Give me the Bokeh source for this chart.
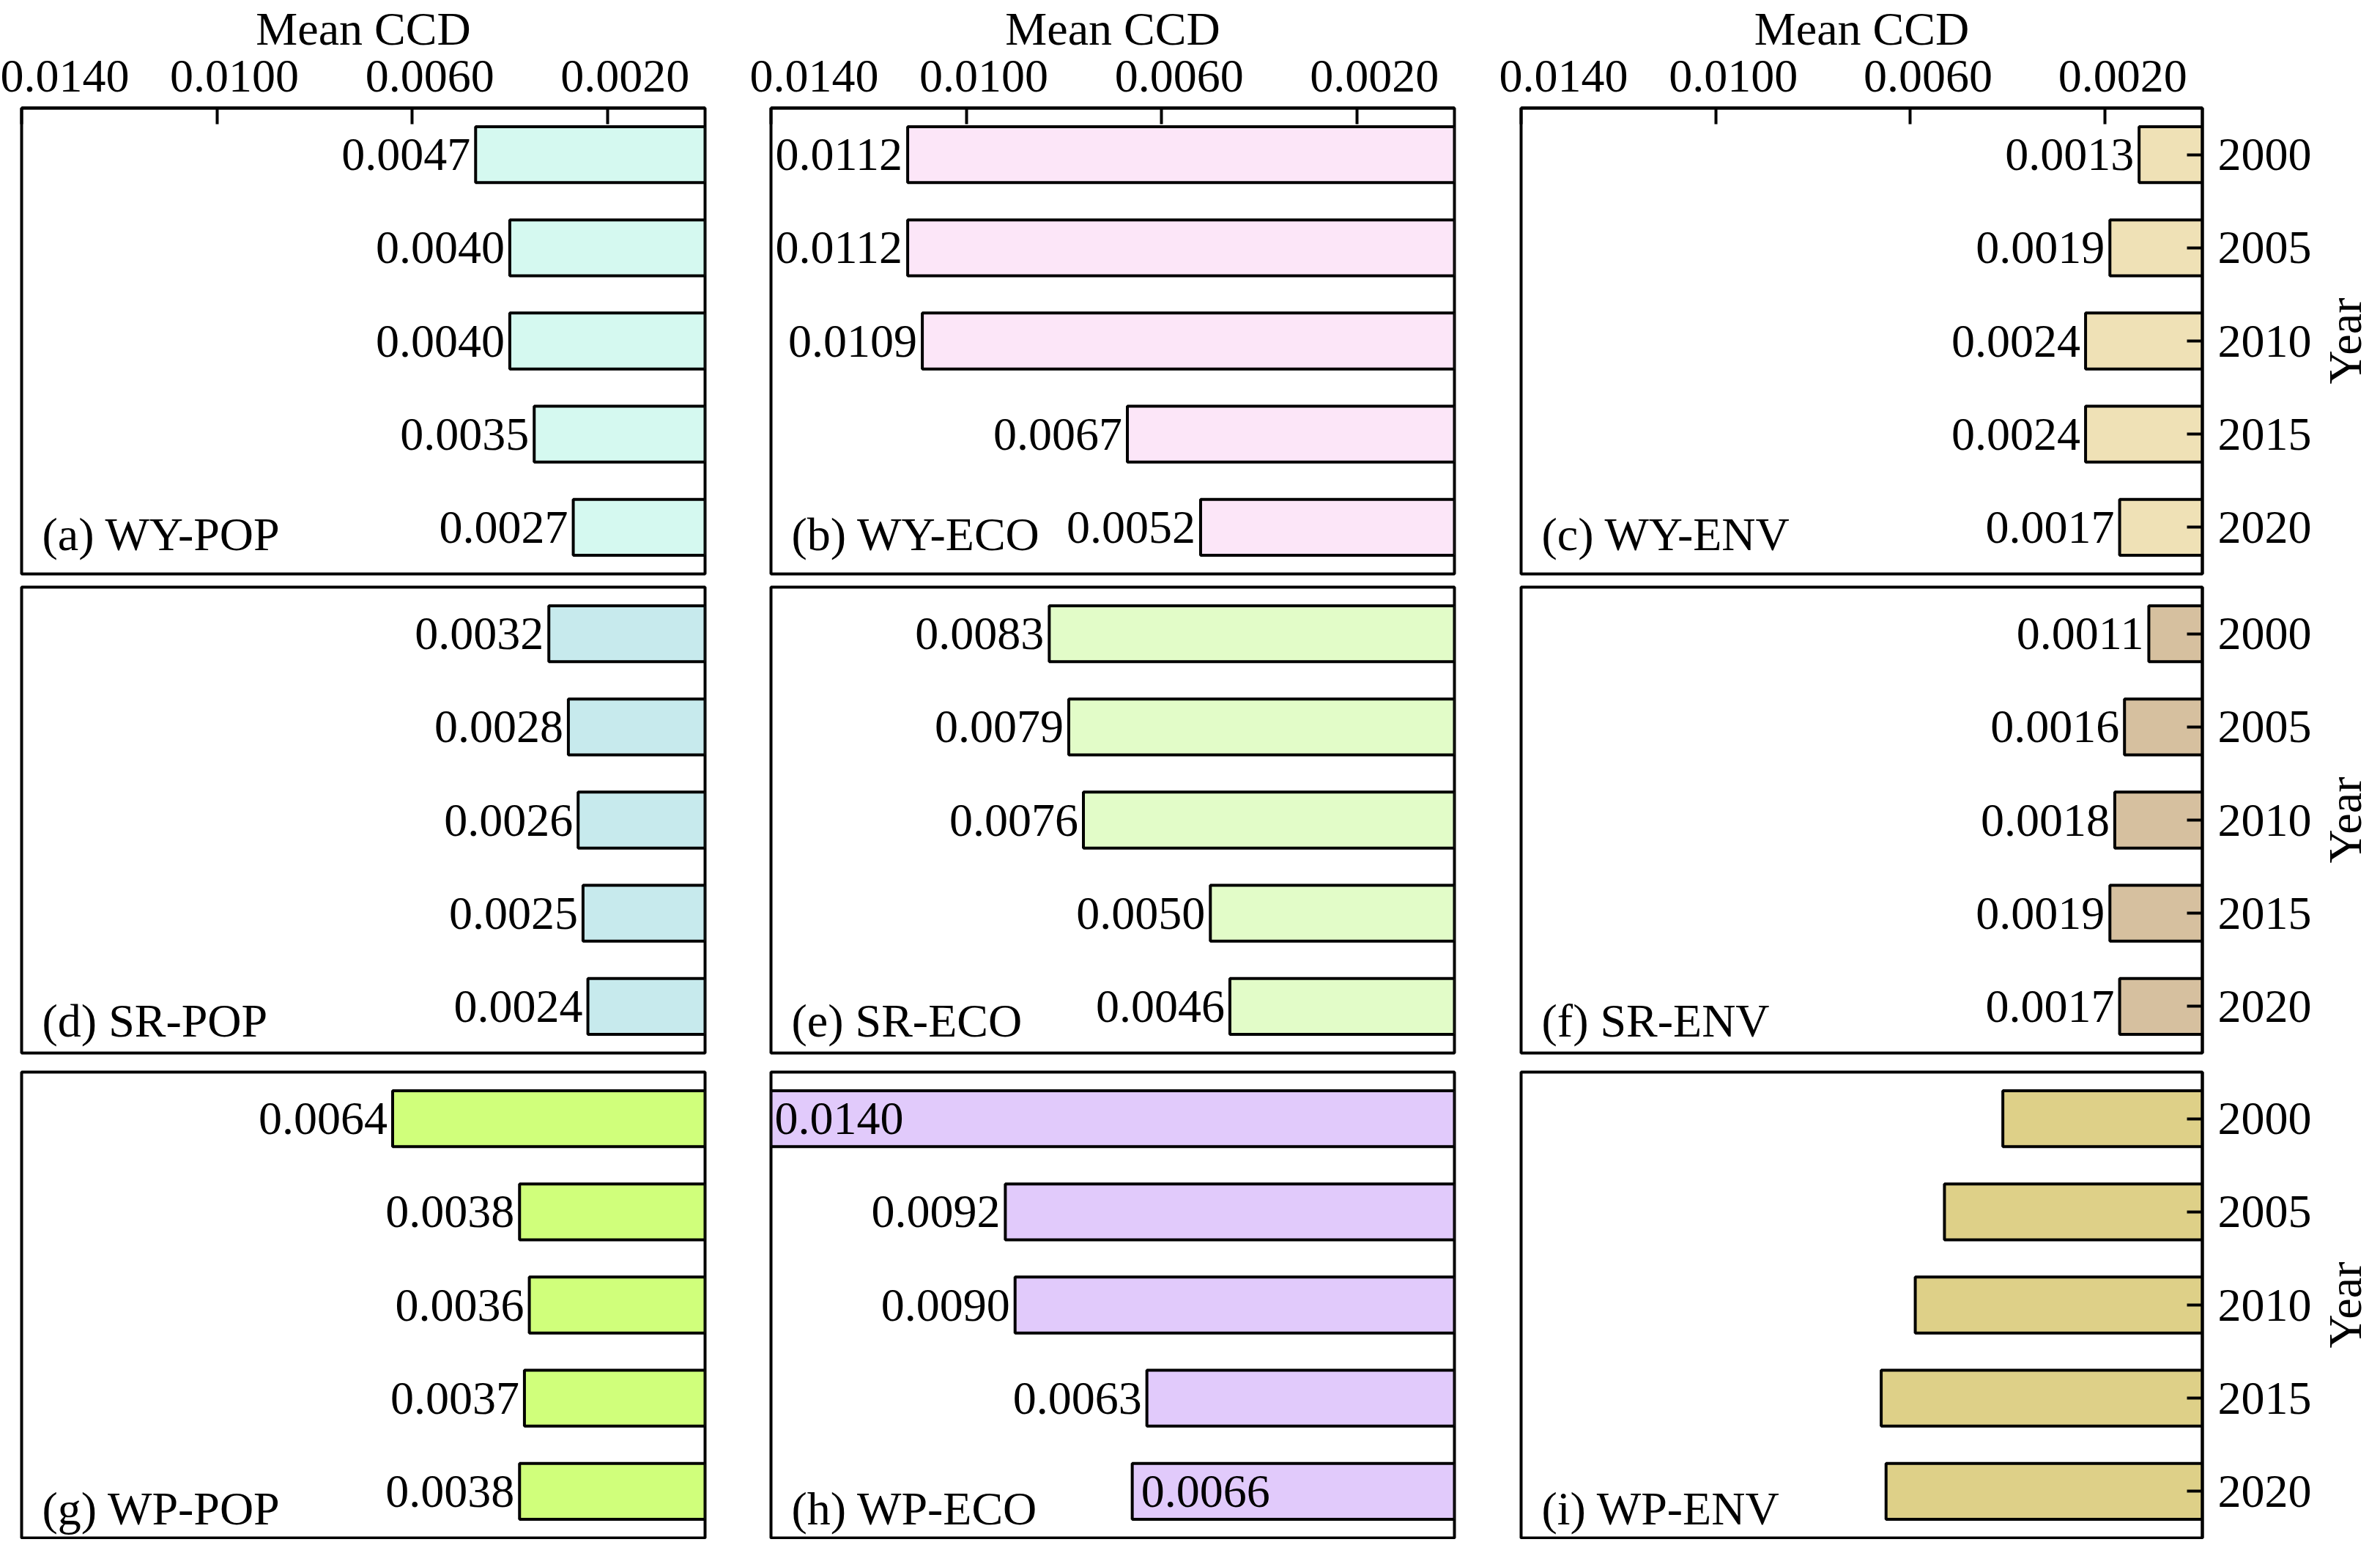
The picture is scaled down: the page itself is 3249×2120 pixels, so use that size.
import math
from bokeh.plotting import figure
from bokeh.models import Range1d, FactorRange, FixedTicker, NumeralTickFormatter, Label, ColumnDataSource
from bokeh.layouts import column, row
from bokeh.core.properties import value
from bokeh.embed import file_html
from bokeh.resources import INLINE

# ---------------- data ----------------
years = ["2000", "2005", "2010", "2015", "2020"]
x_ticks = [0.0140, 0.0100, 0.0060, 0.0020]

wy_pop = [0.0047, 0.0040, 0.0040, 0.0035, 0.0027]
wy_eco = [0.0112, 0.0112, 0.0109, 0.0067, 0.0052]
wy_env = [0.0013, 0.0019, 0.0024, 0.0024, 0.0017]
sr_pop = [0.0032, 0.0028, 0.0026, 0.0025, 0.0024]
sr_eco = [0.0083, 0.0079, 0.0076, 0.0050, 0.0046]
sr_env = [0.0011, 0.0016, 0.0018, 0.0019, 0.0017]
wp_pop = [0.0064, 0.0038, 0.0036, 0.0037, 0.0038]
wp_eco = [0.0140, 0.0092, 0.0090, 0.0063, 0.0066]
wp_env = [0.0041, 0.0053, 0.0059, 0.0066, 0.0065]

panel_titles = ["(a) WY-POP", "(b) WY-ECO", "(c) WY-ENV",
                "(d) SR-POP", "(e) SR-ECO", "(f) SR-ENV",
                "(g) WP-POP", "(h) WP-ECO", "(i) WP-ENV"]
panel_values = [wy_pop, wy_eco, wy_env, sr_pop, sr_eco, sr_env, wp_pop, wp_eco, wp_env]
panel_colors = ["#d5f9f0", "#fce6f8", "#efe1b6",
                "#c7eaed", "#e2fcc8", "#d6c09f",
                "#d0ff7b", "#e1cafb", "#ded088"]
show_values = [True, True, True, True, True, True, True, True, False]
inside_labels = {7: [0, 4]}
x_title = "Mean CCD"
y_title = "Year"

# ---------------- style ----------------
FONT = "Liberation Serif"
FS = "64px"
NBSP = "\u00a0"
LW = 4
# (min_border_left, frame_width, min_border_right)
COLS = [(29, 933, 45), (45, 933, 45), (46, 930, 156)]
# (min_border_top, frame_height, min_border_bottom)
ROWS = [(0, 636, 9), (9, 636, 13), (13, 636, 2)]
TOP_AREA = 138
TITLE_DY = [54, 44, 40]


def style_text_axis(ax):
    ax.major_label_text_font = FONT
    ax.major_label_text_font_size = FS
    ax.major_label_text_color = "black"
    ax.axis_label_text_font = FONT
    ax.axis_label_text_font_size = FS
    ax.axis_label_text_font_style = "normal"
    ax.axis_label_text_color = "black"


figs = []
for idx in range(9):
    r, c = divmod(idx, 3)
    bl, fw, br = COLS[c]
    bt, fh, bb = ROWS[r]
    vals = panel_values[idx]
    p = figure(
        frame_width=fw, frame_height=fh,
        x_range=Range1d(0.0140, 0.0),
        y_range=FactorRange(factors=list(reversed(years))),
        x_axis_location="above" if r == 0 else None,
        y_axis_location="right" if c == 2 else None,
        output_backend="svg", toolbar_location=None,
        background_fill_color="white", border_fill_color="white",
    )
    p.min_border_left = bl
    p.min_border_right = br
    p.min_border_top = bt
    p.min_border_bottom = bb
    p.outline_line_color = "black"
    p.outline_line_width = LW
    p.outline_line_alpha = 1.0
    p.xgrid.visible = False
    p.ygrid.visible = False

    if r == 0:
        ax = p.xaxis[0]
        ax.ticker = FixedTicker(ticks=x_ticks)
        ax.formatter = NumeralTickFormatter(format="0.0000")
        pads = [0 if c == 0 else 1, 3, 3, 3]
        ax.major_label_overrides = {t: NBSP * pads[i] + f"{t:.4f}" for i, t in enumerate(x_ticks)}
        ax.major_tick_in = 22
        ax.major_tick_out = 0
        ax.minor_tick_in = 0
        ax.minor_tick_out = 0
        ax.major_tick_line_width = LW
        ax.major_tick_line_color = "black"
        ax.axis_line_width = LW
        ax.axis_line_color = "black"
        ax.major_label_standoff = 9
        ax.axis_label = x_title
        ax.axis_label_standoff = -10
        style_text_axis(ax)

    if c == 2:
        ay = p.yaxis[0]
        ay.major_tick_in = 21
        ay.major_tick_out = 0
        ay.minor_tick_in = 0
        ay.minor_tick_out = 0
        ay.major_tick_line_width = LW
        ay.major_tick_line_color = "black"
        ay.axis_line_width = LW
        ay.axis_line_color = "black"
        ay.major_label_standoff = 21
        style_text_axis(ay)

    src = ColumnDataSource(dict(y=years, v=vals))
    p.hbar(y="y", left=0.0, right="v", height=0.6, source=src,
           fill_color=panel_colors[idx], line_color="black", line_width=LW)

    if show_values[idx]:
        ins = inside_labels.get(idx, [])
        out_i = [i for i in range(5) if i not in ins]
        if out_i:
            p.text(x=[vals[i] for i in out_i], y=[years[i] for i in out_i],
                   text=[f"{vals[i]:.4f}" for i in out_i],
                   x_offset=-7, text_align="right", text_baseline="middle",
                   text_font=value(FONT), text_font_size=value(FS), text_color="black")
        if ins:
            p.text(x=[vals[i] for i in ins], y=[years[i] for i in ins],
                   text=[f"{vals[i]:.4f}" for i in ins],
                   x_offset=[5 if vals[i] >= 0.0139 else 12 for i in ins],
                   text_align="left", text_baseline="middle",
                   text_font=value(FONT), text_font_size=value(FS), text_color="black")

    p.add_layout(Label(x=0.0140, y=0, x_offset=28, y_offset=TITLE_DY[r], text=panel_titles[idx],
                       text_font=FONT, text_font_size=FS, text_color="black",
                       text_align="left", text_baseline="alphabetic"))
    figs.append(p)


def year_title_fig(r):
    bt, fh, bb = ROWS[r]
    q = figure(frame_width=1, frame_height=fh,
               x_range=Range1d(0, 1), y_range=Range1d(0, 1),
               x_axis_location=None, y_axis_location="left",
               output_backend="svg", toolbar_location=None,
               background_fill_color="white", border_fill_color="white")
    q.min_border_left = 0
    q.min_border_right = 0
    q.min_border_top = TOP_AREA if r == 0 else bt
    q.min_border_bottom = bb
    q.outline_line_color = None
    q.xgrid.visible = False
    q.ygrid.visible = False
    ya = q.yaxis[0]
    ya.ticker = FixedTicker(ticks=[])
    ya.axis_line_color = None
    ya.major_tick_line_color = None
    ya.minor_tick_line_color = None
    ya.major_tick_out = 0
    ya.major_tick_in = 0
    ya.major_label_standoff = 0
    ya.axis_label = y_title
    ya.axis_label_standoff = 0
    style_text_axis(ya)
    # invisible anchor so the figure has a renderer
    q.scatter(x=[0.5], y=[0.5], size=0, alpha=0)
    return q


rows = []
for r in range(3):
    rows.append(row(*figs[3 * r:3 * r + 3], year_title_fig(r)))
layout = column(*rows)

with open("out.html", "w") as f:
    f.write(file_html(layout, INLINE))
